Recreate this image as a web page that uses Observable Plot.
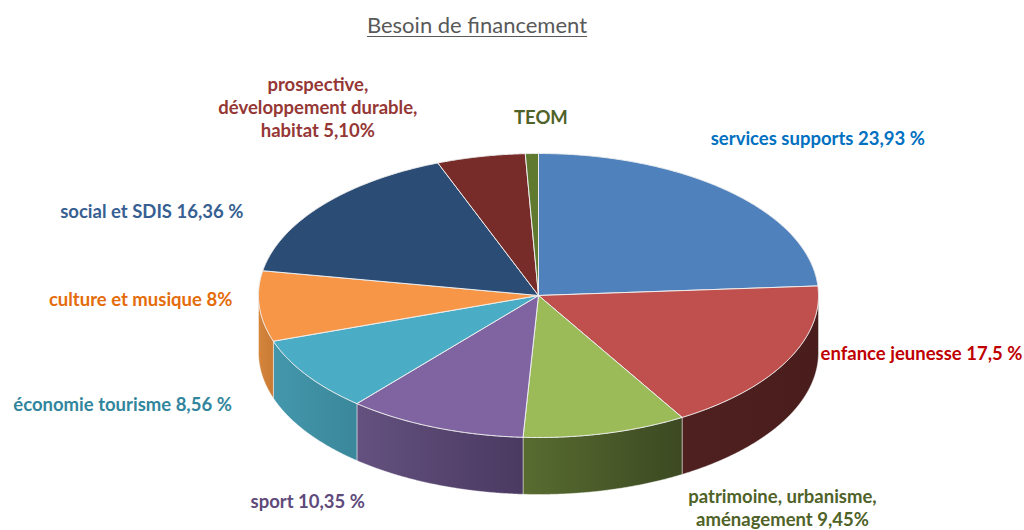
<!DOCTYPE html>
<html>
<head>
<meta charset="utf-8">
<script src="https://cdn.jsdelivr.net/npm/d3@7"></script>
<script src="https://cdn.jsdelivr.net/npm/@observablehq/plot@0.6"></script>
<style>
  html, body { margin: 0; padding: 0; background: #ffffff; }
  #wrap { width: 1024px; height: 530px; overflow: hidden; }
  #title { width: 954px; height: 50px; text-align: center; font-family: Lato, "Open Sans", sans-serif;
           font-size: 22px; color: #595959; line-height: 22px; padding-top: 14px; box-sizing: border-box; }
  #title span { text-decoration: underline; text-decoration-thickness: 1px; text-underline-offset: 3px; }
  svg { display: block; }
</style>
</head>
<body>
<div id="wrap">
  <div id="title"><span>Besoin de financement</span></div>
  <div id="chart"></div>
</div>
<script>
// ---- data ----
const categories = [
  "services supports", "enfance jeunesse", "patrimoine, urbanisme, aménagement",
  "sport", "économie tourisme", "culture et musique", "social et SDIS",
  "prospective, développement durable, habitat", "TEOM"
];
const values = [23.93, 17.5, 9.45, 10.35, 8.56, 8, 16.36, 5.10, 0.75];
const labels = [
  "services supports 23,93 %",
  "enfance jeunesse 17,5 %",
  "patrimoine, urbanisme,\naménagement 9,45%",
  "sport 10,35 %",
  "économie tourisme 8,56 %",
  "culture et musique 8%",
  "social et SDIS 16,36 %",
  "prospective,\ndéveloppement durable,\nhabitat 5,10%",
  "TEOM"
];

// ---- styles ----
const topColors = ["#4f81bd", "#c0504d", "#9bbb59", "#8064a2", "#4bacc6", "#f79646", "#2b4c74", "#772c2a", "#5f7a2f"];
const sideFrom  = ["#2f4e75", "#4f2020", "#586c30", "#64517f", "#4497ab", "#d5853c", "#1e3550", "#4a1b1a", "#3d4f1e"];
const sideTo    = ["#2f4e75", "#4a1d1d", "#3c4922", "#4a3961", "#3a879b", "#c97a34", "#1e3550", "#4a1b1a", "#3d4f1e"];
const labelColors = ["#0070c0", "#c00000", "#4f6228", "#604a7b", "#31859c", "#e46c0a", "#376092", "#953735", "#4f6228"];
const labelAnchor = ["start", "start", "middle", "start", "end", "end", "end", "middle", "middle"];
const labelNudge = [[-19, -54], [34, -66], [177, 17], [-184, 16], [-75, -29], [-27, -65], [-79, 5], [-163, -50], [9, -37]];

// ---- layout ----
const W = 1024, H = 480;
const CX = 538, CY = 245, RX = 280;
const tilt = 142 / 280, depth = 57 / 280;
const step = Math.PI / 720;

const arcs = d3.pie().sort(null).value(d => d)(values);

function arcPts(a0, a1, yoff) {
  const pts = [];
  const n = Math.max(2, Math.ceil((a1 - a0) / step));
  for (let k = 0; k <= n; k++) {
    const a = a0 + (a1 - a0) * k / n;
    pts.push({x: Math.sin(a), y: tilt * Math.cos(a) - yoff});
  }
  return pts;
}

const topRows = [];
const wallRows = [];
arcs.forEach((arc, i) => {
  const pts = [{x: 0, y: 0}, ...arcPts(arc.startAngle, arc.endAngle, 0), {x: 0, y: 0}];
  pts.forEach(p => topRows.push({...p, i, fill: topColors[i]}));
  const w0 = Math.max(arc.startAngle, Math.PI / 2);
  const w1 = Math.min(arc.endAngle, 3 * Math.PI / 2);
  if (w1 > w0) {
    const upper = arcPts(w0, w1, 0);
    const lower = arcPts(w0, w1, depth).reverse();
    [...upper, ...lower, upper[0]].forEach(p => wallRows.push({...p, i, fill: `url(#wall${i})`}));
  }
});

const pxUnit = 1 / RX;
const labelMarks = arcs.map((arc, i) => {
  const m = (arc.startAngle + arc.endAngle) / 2;
  const c = Math.cos(m);
  const pt = {x: Math.sin(m), y: tilt * c - (c < 0 ? depth : 0)};
  return Plot.text([pt], {
    x: "x", y: "y", text: () => labels[i],
    dx: labelNudge[i][0], dy: labelNudge[i][1],
    textAnchor: labelAnchor[i], lineAnchor: "middle", lineHeight: 1.25,
    fill: labelColors[i], fontSize: 18.5, fontWeight: "bold",
    fontFamily: "Lato, 'Open Sans', sans-serif"
  });
});

const chart = Plot.plot({
  width: W, height: H,
  margin: 0,
  x: {type: "linear", domain: [(0 - CX) * pxUnit, (W - CX) * pxUnit], range: [0, W], axis: null},
  y: {type: "linear", domain: [(CY - H) * pxUnit, CY * pxUnit], range: [H, 0], axis: null},
  color: {type: "identity"},
  style: {background: "#ffffff", overflow: "visible"},
  marks: [
    Plot.line(wallRows, {x: "x", y: "y", z: "i", fill: "fill", stroke: "#ffffff", strokeOpacity: 0.55, strokeWidth: 0.8, strokeLinejoin: "round"}),
    Plot.line(topRows, {x: "x", y: "y", z: "i", fill: "fill", stroke: "#eeeeee", strokeWidth: 1, strokeLinejoin: "round"}),
    ...labelMarks
  ]
});

// gradient definitions for the side walls
const svg = d3.select(chart);
const defs = svg.insert("defs", ":first-child");
arcs.forEach((arc, i) => {
  const g = defs.append("linearGradient").attr("id", `wall${i}`).attr("x1", 0).attr("x2", 1).attr("y1", 0).attr("y2", 0);
  g.append("stop").attr("offset", "0%").attr("stop-color", sideFrom[i]);
  g.append("stop").attr("offset", "100%").attr("stop-color", sideTo[i]);
});

document.getElementById("chart").appendChild(chart);
</script>
</body>
</html>
